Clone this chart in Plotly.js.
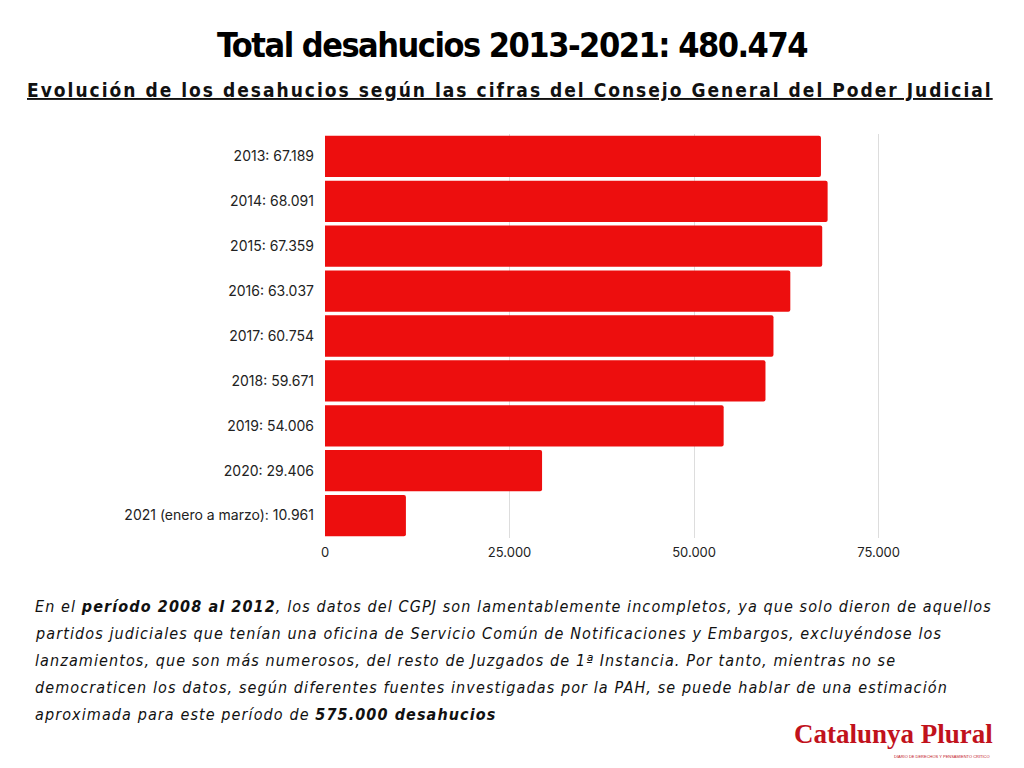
<!DOCTYPE html>
<html>
<head>
<meta charset="utf-8">
<script src="https://cdn.plot.ly/plotly-3.0.1.min.js"></script>
<style>
html,body{margin:0;padding:0;background:#fff;}
#chart{width:1024px;height:768px;}
</style>
</head>
<body>
<div id="chart"></div>
<script>
const years = ['2013', '2014', '2015', '2016', '2017', '2018', '2019', '2020', '2021 (enero a marzo)'];
const values = [67189, 68091, 67359, 63037, 60754, 59671, 54006, 29406, 10961];
const xTicks = [0, 25000, 50000, 75000];
const xTickText = ['0', '25.000', '50.000', '75.000'];

const titleText = 'Total desahucios 2013-2021: 480.474';
const subtitleText = 'Evolución de los desahucios según las cifras del Consejo General del Poder Judicial';
const noteLines = [
  'En el <b>período 2008 al 2012</b>, los datos del CGPJ son lamentablemente incompletos, ya que solo dieron de aquellos',
  'partidos judiciales que tenían una oficina de Servicio Común de Notificaciones y Embargos, excluyéndose los',
  'lanzamientos, que son más numerosos, del resto de Juzgados de 1ª Instancia. Por tanto, mientras no se',
  'democraticen los datos, según diferentes fuentes investigadas por la PAH, se puede hablar de una estimación',
  'aproximada para este período de <b>575.000 desahucios</b>'
];
const logoText = 'Catalunya Plural';
const logoTagline = 'DIARIO DE DERECHOS Y PENSAMIENTO CRÍTICO';

function fmt(v){ return String(v).replace(/\B(?=(\d{3})+(?!\d))/g, '.'); }
const labels = years.map((y, i) => y + ': ' + fmt(values[i]));

const condensed = '"Liberation Sans Narrow", "DejaVu Sans Condensed", "Roboto Condensed", sans-serif';

const trace = {
  type: 'bar',
  orientation: 'h',
  x: values,
  y: labels,
  marker: {color: '#ED0E0E', cornerradius: 2},
  hoverinfo: 'x+y'
};

const annotations = [
  {text: '<span style="letter-spacing:-1.5px">' + titleText + '</span>', showarrow: false,
   font: {family: condensed, size: 34, color: '#000', weight: 700}},
  {text: '<span style="letter-spacing:2px">' + subtitleText + '</span>', showarrow: false,
   font: {family: condensed, size: 19, color: '#111', weight: 700, lineposition: 'under'}}
];
noteLines.forEach((l, i) => annotations.push({text: '<span style="letter-spacing:1.1px"><i>' + l + '</i></span>', showarrow: false,
  font: {family: condensed, size: 16, color: '#111'}}));
annotations.push({text: logoText, showarrow: false, font: {family: '"Liberation Serif", "DejaVu Serif", serif', size: 27, color: '#C1121C', weight: 700}});
annotations.push({text: logoTagline, showarrow: false, font: {family: '"Liberation Sans", sans-serif', size: 4, color: '#C1121C'}});

const W = 1024, H = 768, mL = 325, mR = 138, mT = 134, mB = 230;
const pw = W - mL - mR, ph = H - mT - mB;
function px(xp){ return (xp - mL) / pw; }
function py(yp){ return (H - mB - yp) / ph; }
function place(a, xp, yp, xa){ a.xref = 'paper'; a.yref = 'paper'; a.x = px(xp); a.y = py(yp); a.xanchor = xa; a.yanchor = 'middle'; }
place(annotations[0], 512, 45, 'center');
place(annotations[1], 510, 90, 'center');
const noteY = [606, 633, 660, 687, 714];
noteLines.forEach((l, i) => place(annotations[2 + i], 33, noteY[i], 'left'));
place(annotations[7], 893, 734, 'center');
place(annotations[8], 942, 756, 'center');

const layout = {
  width: W, height: H,
  margin: {l: mL, r: mR, t: mT, b: mB},
  paper_bgcolor: '#fff', plot_bgcolor: '#fff',
  separators: ',.',
  showlegend: false,
  bargap: 0.08,
  xaxis: {
    range: [0, 76000],
    tickvals: xTicks, ticktext: xTickText,
    showgrid: true, gridcolor: '#DDDDDD', gridwidth: 1,
    zeroline: false, showline: false, ticks: '',
    ticklabelstandoff: 5,
    tickfont: {family: 'Inter, Roboto, sans-serif', size: 13, color: '#222'},
    fixedrange: true
  },
  yaxis: {
    autorange: 'reversed',
    type: 'category',
    showgrid: false, zeroline: false, showline: false, ticks: '',
    ticklabelstandoff: 10,
    tickfont: {family: 'Inter, Roboto, sans-serif', size: 14, color: '#222'},
    fixedrange: true
  },
  annotations: annotations
};

Plotly.newPlot('chart', [trace], layout, {displayModeBar: false, staticPlot: true});
</script>
</body>
</html>
